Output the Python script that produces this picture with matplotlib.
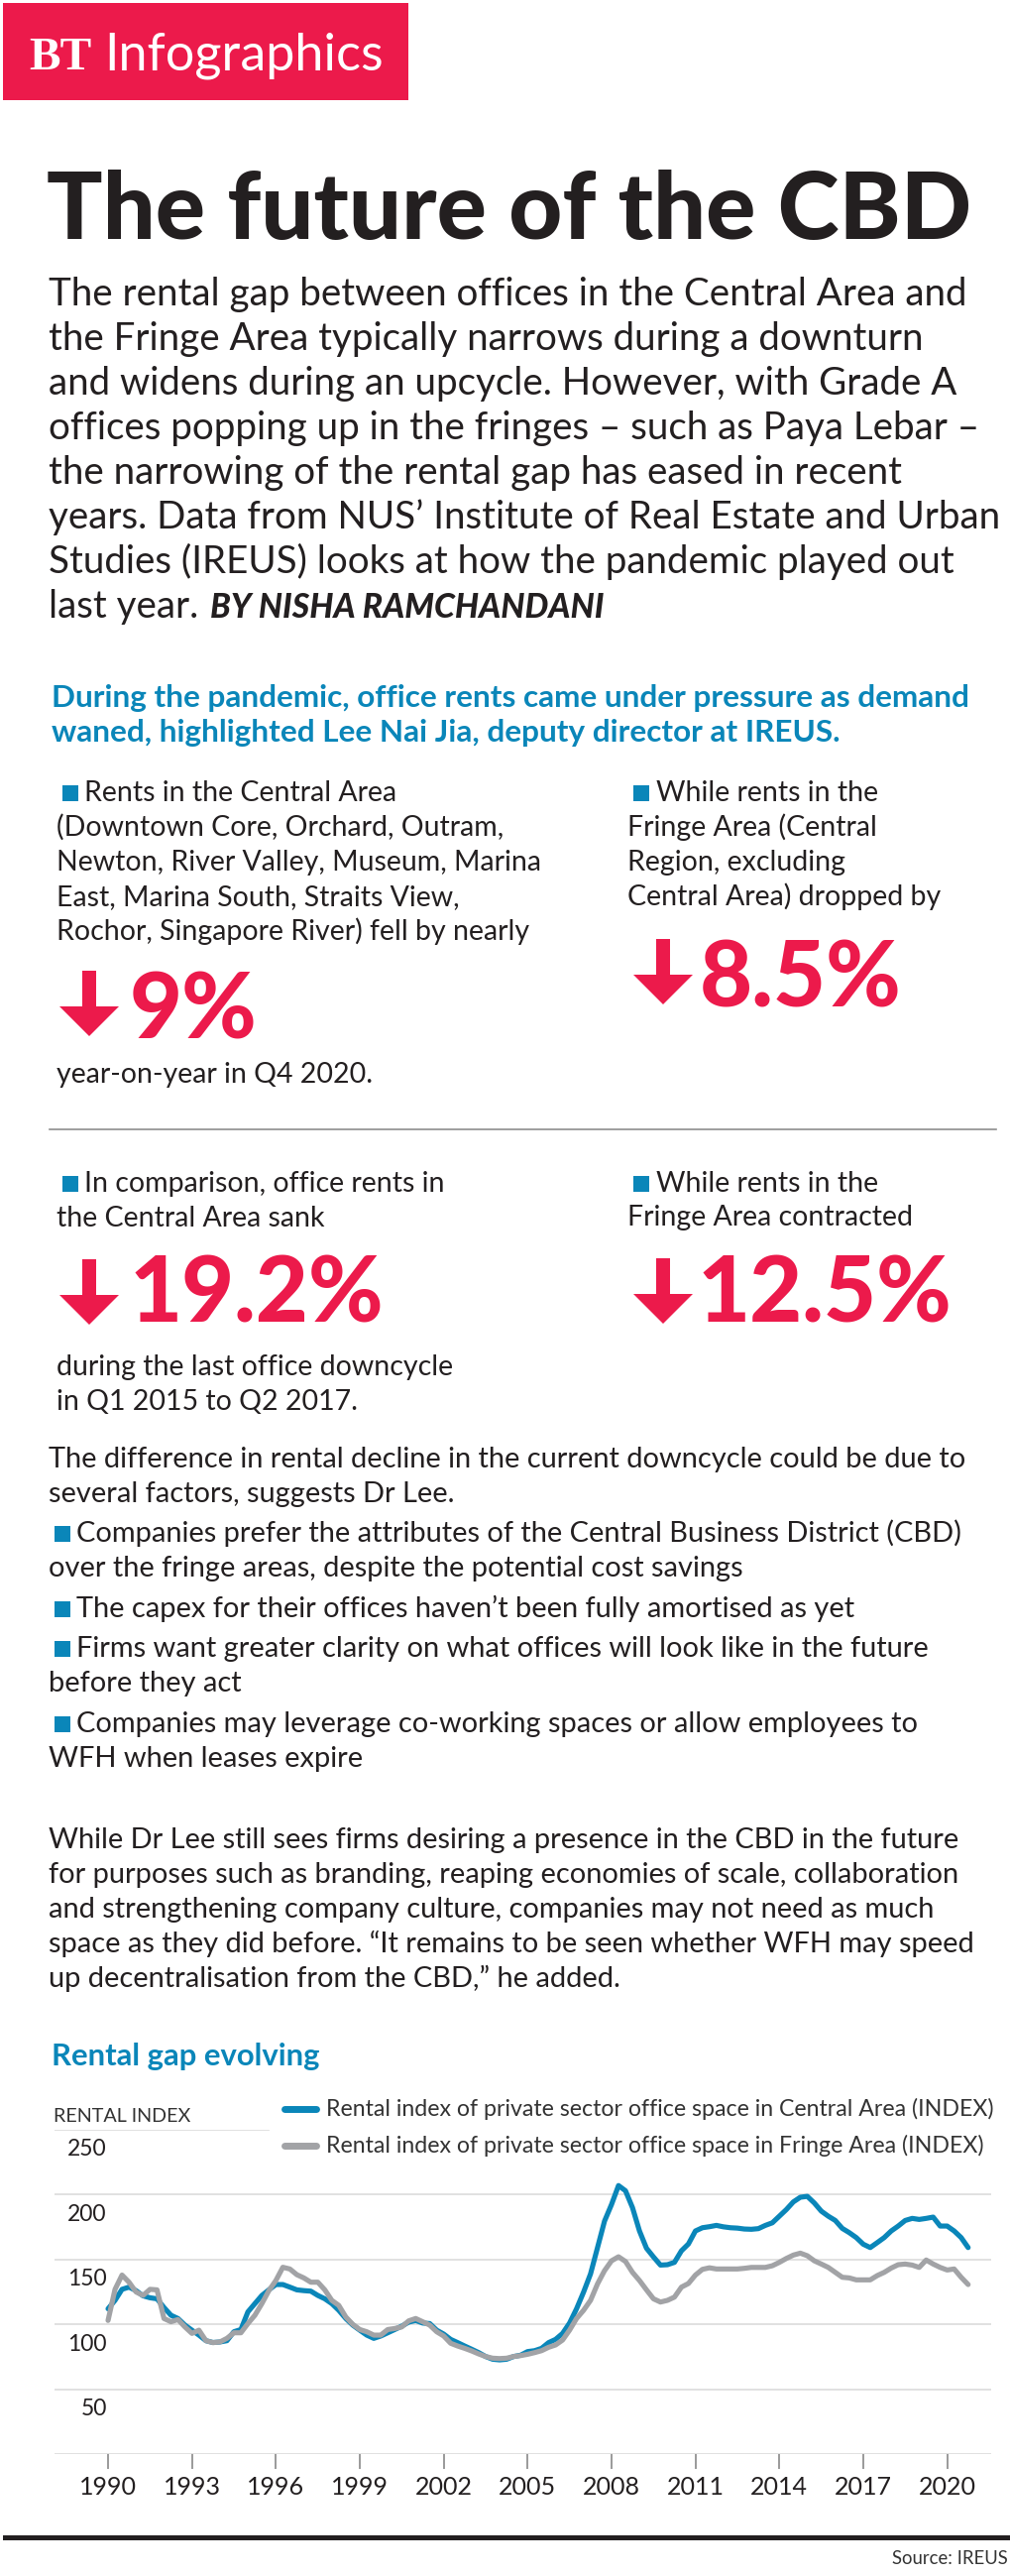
import numpy as np
import matplotlib
matplotlib.use("Agg")
import matplotlib.pyplot as plt
from matplotlib.patches import Rectangle, Polygon
from matplotlib.lines import Line2D
from matplotlib.transforms import ScaledTranslation

# rental index, quarterly 1990Q1 - 2020Q4
central = [
    112, 118.5, 127, 128.7,  126, 122, 120.5, 119.7,  113, 107, 104.5, 99.4,
    95.5, 91.7, 87.4, 86,  86.4, 87.4, 94.3, 96,  109.6, 116, 122.3, 126.6,
    130.7, 130.7, 128.7, 126.6,  126, 125.6, 122.3, 119.7,  116, 110.8, 104.5, 99.4,
    95.5, 91.7, 89.2, 91,  93.5, 96, 98.6, 101.7,  103, 101, 100.6, 95.5,
    92.5, 88.4, 85.9, 83.3,  80.8, 78.2, 75.2, 73.1,  72.6, 73.1, 75.2, 76.2,
    79, 79.7, 81.5, 85.9,  88.4, 93, 101, 112,  124.8, 138.9, 159.2, 179.6,
    192.4, 207, 203, 190,  172, 158.7, 152, 145.7,  146, 147.8, 156.7, 162,
    172, 174.5, 175.3, 176.3,  175.2, 174.5, 174.2, 173.5,  173.3, 173.8, 176.3, 178.3,
    183.4, 188.5, 194.4, 198,  198.7, 193.6, 187.3, 183.4,  180.1, 174, 170.7, 166.9,
    161.8, 159.2, 163, 166.9,  172, 175.8, 180.1, 181.7,  180.9, 181.7, 182.7, 175.8,
    175.8, 172, 166.9, 159.2,
]
fringe = [
    103, 127, 138, 132.5,  125, 122.3, 127, 126.6,  104.5, 102, 103.7, 98,
    93, 95.5, 87.4, 85.9,  86.4, 89.2, 93.5, 93.5,  100.6, 107, 116, 126,
    133.8, 144, 142.7, 138.3,  135.8, 132.5, 132.5, 126.6,  118.5, 114.6, 105.7, 100,
    96, 94.3, 91.7, 91.7,  96, 96.8, 98, 102.7,  104.5, 102, 99.4, 94.3,
    91, 85.4, 83.3, 81.5,  79.5, 77.2, 75.2, 73.9,  73.6, 73.9, 75.2, 75.9,
    76.9, 78.2, 79.7, 82.3,  84.1, 87.9, 95.5, 104.5,  110.8, 118.5, 131.2, 141.4,
    149, 152.1, 148.5, 140.1,  133.8, 126.6, 119.7, 117.2,  118.5, 121, 128.7, 131.5,
    138, 142.4, 143.6, 142.7,  142.7, 142.7, 142.7, 143.2,  143.9, 143.9, 143.9, 145.2,
    147.8, 150.8, 153.4, 154.9,  152.9, 149, 146.5, 143.9,  140.1, 136.3, 135.8, 134.3,
    134.3, 134.3, 137.6, 140.1,  143.4, 146, 146.5, 145.7,  143.9, 149.6, 146.5, 143.9,
    141.9, 142.7, 136.3, 130.7,
]
start_year = 1990
tick_years = [1990, 1993, 1996, 1999, 2002, 2005, 2008, 2011, 2014, 2017, 2020]
y_ticks = [50, 100, 150, 200, 250]
series_labels = [
    "Rental index of private sector office space in Central Area (INDEX)",
    "Rental index of private sector office space in Fringe Area (INDEX)",
]

RED = "#ec1a4b"
BLUE = "#0a86b9"
GREY = "#a2a3a6"
INK = "#231f20"

plt.rcParams["font.family"] = ["Lato", "DejaVu Sans"]

W, H = 1020, 2598
fig = plt.figure(figsize=(W / 100, H / 100), dpi=100)
fig.patch.set_facecolor("white")
renderer = fig.canvas.get_renderer()


def fy(y):
    return 1 - y / H


def put(x, y, s, size, **kw):
    kw.setdefault("color", INK)
    return fig.text(x / W, fy(y), s, fontsize=size, va="baseline", **kw)


def text_width(s, size, **kw):
    t = fig.text(0, 0, s, fontsize=size, **kw)
    w = t.get_window_extent(renderer=renderer).width
    t.remove()
    return w


def size_for(s, width, **kw):
    # font size that makes s about `width` pixels wide
    return 20 * width / text_width(s, 20, **kw)


def box(x0, y0, x1, y1, color):
    fig.add_artist(Rectangle((x0 / W, fy(y1)), (x1 - x0) / W, (y1 - y0) / H,
                             transform=fig.transFigure, color=color, lw=0))


def bullet(x, base):
    box(x, base - 16, x + 16, base, BLUE)


def arrow(x0, top):
    pts = [(x0 + 23, top), (x0 + 37, top), (x0 + 37, top + 36), (x0 + 60, top + 36),
           (x0 + 30, top + 66), (x0, top + 36), (x0 + 23, top + 36)]
    fig.add_artist(Polygon([(px / W, fy(py)) for px, py in pts], closed=True,
                           transform=fig.transFigure, color=RED, lw=0))


# header
box(3, 3, 412, 101, RED)
put(29, 70, "BT", size_for("BT", 63, family="Liberation Serif", weight="bold"),
    family="Liberation Serif", weight="bold", color="white")
put(105, 70, "Infographics", size_for("Infographics", 282), color="white")

# title
put(47, 241, "The future of the CBD",
    size_for("The future of the CBD", 935, weight="black"), weight="black")

intro = [
    "The rental gap between offices in the Central Area and",
    "the Fringe Area typically narrows during a downturn",
    "and widens during an upcycle. However, with Grade A",
    "offices popping up in the fringes \u2013 such as Paya Lebar \u2013",
    "the narrowing of the rental gap has eased in recent",
    "years. Data from NUS\u2019 Institute of Real Estate and Urban",
    "Studies (IREUS) looks at how the pandemic played out",
    "last year.",
]
fs_intro = size_for(intro[0], 929)
for i, line in enumerate(intro):
    put(49, 308 + 45 * i, line, fs_intro)
byline_x = 49 + text_width(intro[-1], fs_intro) + 12
put(byline_x, 623, "BY NISHA RAMCHANDANI",
    size_for("BY NISHA RAMCHANDANI", 397, weight="black", style="italic"),
    weight="black", style="italic")

sub = ["During the pandemic, office rents came under pressure as demand",
       "waned, highlighted Lee Nai Jia, deputy director at IREUS."]
fs_sub = size_for(sub[0], 927, weight="bold")
put(52, 713, sub[0], fs_sub, weight="bold", color=BLUE)
put(52, 748, sub[1], fs_sub, weight="bold", color=BLUE)

fs_col = size_for("Newton, River Valley, Museum, Marina", 489)
fs_big = 66

# top left block
bullet(63, 808)
put(85, 808, "Rents in the Central Area", fs_col)
for i, line in enumerate(["(Downtown Core, Orchard, Outram,",
                          "Newton, River Valley, Museum, Marina",
                          "East, Marina South, Straits View,",
                          "Rochor, Singapore River) fell by nearly"]):
    put(57, 843 + 35 * i, line, fs_col)
arrow(60, 979)
put(131, 1047, "9%", fs_big, weight="black", color=RED)
put(57, 1092, "year-on-year in Q4 2020.", fs_col)

# top right block
bullet(639, 808)
put(662, 808, "While rents in the", fs_col)
for i, line in enumerate(["Fringe Area (Central", "Region, excluding",
                          "Central Area) dropped by"]):
    put(633, 843 + 35 * i, line, fs_col)
arrow(639, 947)
put(706, 1015, "8.5%", fs_big, weight="black", color=RED)

fig.add_artist(Line2D([50 / W, 1005 / W], [fy(1139)] * 2, color="#8e8e8e", lw=1.2))

# bottom left block
bullet(63, 1202)
put(85, 1202, "In comparison, office rents in", fs_col)
put(57, 1237, "the Central Area sank", fs_col)
arrow(60, 1270)
put(131, 1333, "19.2%", fs_big, weight="black", color=RED)
put(57, 1387, "during the last office downcycle", fs_col)
put(57, 1422, "in Q1 2015 to Q2 2017.", fs_col)

# bottom right block
bullet(639, 1202)
put(662, 1202, "While rents in the", fs_col)
put(633, 1236, "Fringe Area contracted", fs_col)
arrow(639, 1269)
put(704, 1333, "12.5%", fs_big, weight="black", color=RED)

# factors
body = [
    (1480, False, "The difference in rental decline in the current downcycle could be due to"),
    (1515, False, "several factors, suggests Dr Lee."),
    (1555, True, "Companies prefer the attributes of the Central Business District (CBD)"),
    (1590, False, "over the fringe areas, despite the potential cost savings"),
    (1631, True, "The capex for their offices haven\u2019t been fully amortised as yet"),
    (1671, True, "Firms want greater clarity on what offices will look like in the future"),
    (1706, False, "before they act"),
    (1747, True, "Companies may leverage co-working spaces or allow employees to"),
    (1782, False, "WFH when leases expire"),
    (1864, False, "While Dr Lee still sees firms desiring a presence in the CBD in the future"),
    (1899, False, "for purposes such as branding, reaping economies of scale, collaboration"),
    (1934, False, "and strengthening company culture, companies may not need as much"),
    (1969, False, "space as they did before. \u201cIt remains to be seen whether WFH may speed"),
    (2004, False, "up decentralisation from the CBD,\u201d he added."),
]
fs_body = size_for(body[0][2], 929)
for base, is_bullet, line in body:
    if is_bullet:
        bullet(55, base)
        put(77, base, line, fs_body)
    else:
        put(49, base, line, fs_body)

# chart
put(52, 2083, "Rental gap evolving",
    size_for("Rental gap evolving", 270, weight="bold"), weight="bold", color=BLUE)
put(54, 2140, "RENTAL INDEX", size_for("RENTAL INDEX", 139), color="#333333")

ax = fig.add_axes([55 / W, fy(2475), 945 / W, (2475 - 2148) / H])
quarters = start_year + np.arange(len(central)) / 4
px_year = 28.22
ax.set_xlim(start_year - 54 / px_year, start_year + 891 / px_year)
ax.set_ylim(0, 250)

for v in [0] + y_ticks[:-1]:
    ax.axhline(v, color="#dedede", lw=1.3, zorder=1)
ax.axhline(y_ticks[-1], xmax=216 / 945, color="#dedede", lw=1.3, zorder=1)

l1, = ax.plot(quarters, central, color=BLUE, lw=3.7, solid_joinstyle="round",
              solid_capstyle="round", zorder=3)
l2, = ax.plot(quarters, fringe, color=GREY, lw=3.7, solid_joinstyle="round",
              solid_capstyle="round", zorder=4)

for s in ax.spines.values():
    s.set_visible(False)
ax.set_xticks(tick_years)
ax.set_xticklabels([str(y) for y in tick_years], fontsize=18, color=INK)
ax.tick_params(axis="x", length=11, width=1.4, color="#9a9a9a", pad=5)
ax.set_yticks(y_ticks)
ax.set_yticklabels([str(v) for v in y_ticks], fontsize=16.5, color=INK)
ax.tick_params(axis="y", length=0, pad=-38)
shift = ScaledTranslation(0, -0.18, fig.dpi_scale_trans)
for lab in ax.get_yticklabels():
    lab.set_transform(lab.get_transform() + shift)

# legend
fs_leg = size_for(series_labels[0], 673)
for line, label, yc in [(l1, series_labels[0], 2127), (l2, series_labels[1], 2164)]:
    fig.add_artist(Line2D([287 / W, 319 / W], [fy(yc)] * 2, color=line.get_color(),
                          lw=5, solid_capstyle="round"))
    fig.text(329 / W, fy(yc), label, fontsize=fs_leg, va="center", color="#333333")

# footer
box(3, 2557, 1020, 2562, INK)
fig.text(1017 / W, fy(2586), "Source: IREUS", fontsize=size_for("Source: IREUS", 117),
         ha="right", va="baseline", color="#333333")

fig.savefig("out.png", dpi=100)
